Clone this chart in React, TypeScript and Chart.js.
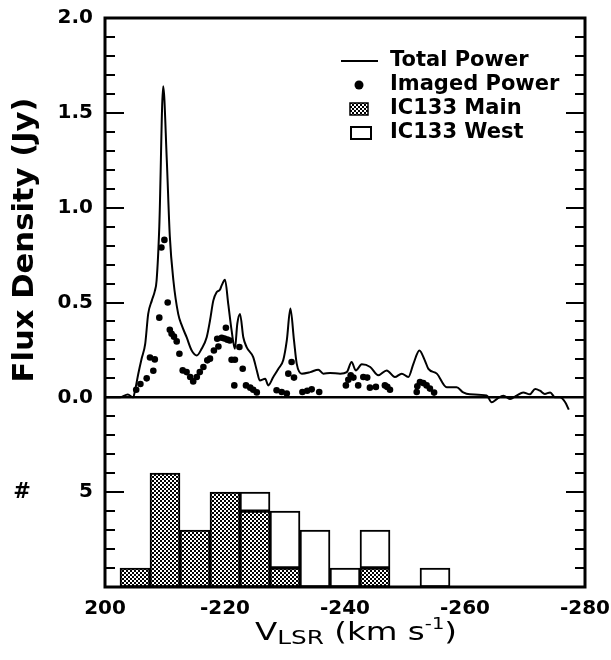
import React, { useEffect, useRef } from "react";
import { Chart, registerables } from "chart.js";

Chart.register(...registerables);

// Total power spectrum: [velocity (km/s), flux density (Jy)]
const TOTAL_POWER: [number, number][] = [
  [-200, 0], [-202.5, 0], [-203.8, 0.015], [-204.7, 0], [-205.0, 0.035],
  [-205.55, 0.124], [-206.1, 0.203], [-206.7, 0.282], [-207.2, 0.44], [-207.8, 0.51],
  [-208.3, 0.56], [-208.6, 0.616], [-209.05, 0.9], [-209.7, 1.64], [-210.3, 1.25],
  [-210.8, 0.85], [-211.4, 0.616], [-212.2, 0.44], [-212.8, 0.379], [-213.6, 0.317],
  [-214.45, 0.247], [-215.3, 0.221], [-216.1, 0.256], [-216.95, 0.317], [-217.5, 0.405],
  [-218.05, 0.51], [-218.6, 0.554], [-219.15, 0.567], [-219.45, 0.59], [-220.0, 0.62],
  [-220.55, 0.49], [-221.1, 0.353], [-221.65, 0.256], [-222.05, 0.388], [-222.5, 0.44],
  [-223.05, 0.317], [-223.6, 0.265], [-224.7, 0.212], [-225.3, 0.142], [-225.8, 0.089],
  [-226.7, 0.098], [-227.2, 0.063], [-228.05, 0.107], [-228.9, 0.151], [-229.7, 0.195],
  [-230.3, 0.3], [-230.9, 0.468], [-231.5, 0.3], [-231.95, 0.178], [-232.8, 0.125],
  [-234.2, 0.133], [-235.55, 0.146], [-236.4, 0.125], [-237.5, 0.128], [-239.2, 0.125],
  [-240.3, 0.133], [-241.1, 0.186], [-241.8, 0.142], [-242.8, 0.174], [-244.2, 0.16],
  [-245.55, 0.116], [-246.95, 0.142], [-248.3, 0.107], [-249.45, 0.125], [-250.55, 0.107],
  [-251.4, 0.177], [-252.4, 0.247], [-253.3, 0.195], [-253.9, 0.15], [-255.3, 0.125],
  [-256.95, 0.053], [-258.6, 0.053], [-259.7, 0.026], [-260.8, 0.016], [-263.6, 0.01],
  [-264.45, -0.026], [-265.3, -0.009], [-266.4, 0.009], [-267.5, -0.009], [-268.6, 0.009],
  [-269.7, 0.026], [-270.8, 0.016], [-271.7, 0.044], [-272.5, 0.035], [-273.3, 0.018],
  [-274.2, 0.026], [-275.0, 0], [-275.8, 0], [-276.7, -0.026], [-277.3, -0.065],
];

// Imaged power points: [velocity (km/s), flux density (Jy)]
const IMAGED_POWER: [number, number][] = [
  [-205.2, 0.04], [-205.9, 0.07], [-206.95, 0.1], [-207.5, 0.21], [-208.05, 0.14],
  [-208.3, 0.2], [-209.05, 0.42], [-209.4, 0.79], [-209.9, 0.83], [-210.45, 0.5],
  [-210.8, 0.356], [-211.1, 0.335], [-211.5, 0.32], [-211.95, 0.295], [-212.4, 0.23],
  [-212.95, 0.142], [-213.6, 0.133], [-214.2, 0.107], [-214.7, 0.084], [-215.3, 0.107],
  [-215.8, 0.133], [-216.4, 0.16], [-217.05, 0.195], [-217.5, 0.204], [-218.15, 0.247],
  [-218.7, 0.309], [-218.9, 0.268], [-219.45, 0.314], [-219.9, 0.31], [-220.15, 0.367],
  [-220.4, 0.304], [-220.8, 0.3], [-221.1, 0.198], [-221.55, 0.063], [-221.65, 0.198],
  [-222.4, 0.265], [-222.95, 0.151], [-223.5, 0.063], [-224.2, 0.051], [-224.7, 0.04],
  [-225.3, 0.026], [-228.6, 0.037], [-229.45, 0.028], [-230.3, 0.02], [-230.55, 0.125],
  [-231.1, 0.186], [-231.5, 0.104], [-232.9, 0.028], [-233.7, 0.035], [-234.45, 0.042],
  [-235.7, 0.028], [-240.15, 0.063], [-240.55, 0.093], [-240.95, 0.116], [-241.4, 0.104],
  [-242.2, 0.063], [-243.05, 0.107], [-243.7, 0.104], [-244.15, 0.051], [-245.15, 0.055],
  [-246.65, 0.063], [-247.05, 0.055], [-247.5, 0.04], [-251.95, 0.028], [-252.05, 0.058],
  [-252.5, 0.08], [-253.05, 0.075], [-253.6, 0.063], [-254.15, 0.046], [-254.85, 0.025],
];

// Histogram of maser spot counts per 5 km/s bin
const BIN_VELOCITY = [-205, -210, -215, -220, -225, -230, -235, -240, -245, -250, -255];
const MAIN_COUNTS = [1, 6, 3, 5, 4, 1, 0, 0, 1, 0, 0];
const WEST_COUNTS = [0, 0, 0, 0, 1, 3, 3, 1, 2, 0, 1];

// Tick labels
const VEL_TICKS = [-200, -220, -240, -260, -280];
const VEL_TICK_LABELS = ["200", "-220", "-240", "-260", "-280"];
const FLUX_TICKS = [0, 0.5, 1, 1.5, 2];
const FLUX_TICK_LABELS = ["0.0", "0.5", "1.0", "1.5", "2.0"];
const COUNT_TICKS = [5];
const COUNT_TICK_LABELS = ["5"];

const FLUX_MIN = -1;
const FLUX_MAX = 2;
const COUNT_MAX = 30;

const FONT = '"DejaVu Sans", "Liberation Sans", sans-serif';

function makePattern(ctx: CanvasRenderingContext2D): CanvasPattern | string {
  const c = document.createElement("canvas");
  c.width = 4;
  c.height = 4;
  const g = c.getContext("2d");
  if (!g) return "#888";
  g.fillStyle = "#fff";
  g.fillRect(0, 0, 4, 4);
  g.fillStyle = "#000";
  g.fillRect(0, 0, 2, 2);
  g.fillRect(2, 2, 2, 2);
  return ctx.createPattern(c, "repeat") || "#888";
}

function fluxLabel(v: number): string {
  for (let i = 0; i < FLUX_TICKS.length; i++) {
    if (Math.abs(v - FLUX_TICKS[i]) < 1e-6) return FLUX_TICK_LABELS[i];
  }
  if (v < 0) {
    const count = ((v - FLUX_MIN) / (FLUX_MAX - FLUX_MIN)) * COUNT_MAX;
    for (let i = 0; i < COUNT_TICKS.length; i++) {
      if (Math.abs(count - COUNT_TICKS[i]) < 1e-6) return COUNT_TICK_LABELS[i];
    }
  }
  return "";
}

export default function App() {
  const ref = useRef<HTMLCanvasElement | null>(null);

  useEffect(() => {
    document.body.style.margin = "0";
    const canvas = ref.current;
    if (!canvas) return;
    const ctx = canvas.getContext("2d");
    if (!ctx) return;
    const pattern = makePattern(ctx);

    const framePlugin = {
      id: "frame",
      beforeDatasetsDraw(chart: any) {
        const { ctx: c, chartArea: ca, scales } = chart;
        const y0 = scales.y.getPixelForValue(0);
        c.save();
        c.strokeStyle = "#000";
        c.lineWidth = 2.5;
        c.beginPath();
        c.moveTo(ca.left, y0);
        c.lineTo(ca.right, y0);
        c.stroke();
        c.restore();
      },
      afterDraw(chart: any) {
        const { ctx: c, chartArea: ca, scales } = chart;
        const y = scales.y;
        c.save();
        c.strokeStyle = "#000";
        c.fillStyle = "#000";
        // ticks on both sides, pointing inward
        c.lineWidth = 2;
        for (const t of y.ticks) {
          const v = t.value;
          if (Math.abs(v - FLUX_MIN) < 1e-6 || Math.abs(v - FLUX_MAX) < 1e-6 || Math.abs(v) < 1e-6) continue;
          const major = fluxLabel(v) !== "";
          const len = major ? 19 : 10;
          const py = Math.round(y.getPixelForValue(v));
          c.beginPath();
          c.moveTo(ca.left, py);
          c.lineTo(ca.left + len, py);
          c.moveTo(ca.right, py);
          c.lineTo(ca.right - len, py);
          c.stroke();
        }
        // frame
        c.lineWidth = 3;
        c.strokeRect(ca.left, ca.top, ca.right - ca.left, ca.bottom - ca.top);

        // legend
        c.textAlign = "left";
        c.textBaseline = "middle";
        c.font = `bold 21px ${FONT}`;
        const lx = 390;
        const rows = [61, 85, 109, 133];
        c.lineWidth = 2;
        c.beginPath();
        c.moveTo(341, rows[0]);
        c.lineTo(378, rows[0]);
        c.stroke();
        c.fillText("Total Power", lx, rows[0]);
        c.beginPath();
        c.arc(359, rows[1], 4.5, 0, Math.PI * 2);
        c.fill();
        c.fillText("Imaged Power", lx, rows[1]);
        c.fillStyle = pattern as any;
        c.fillRect(350, rows[2] - 6, 18, 12);
        c.lineWidth = 1.5;
        c.strokeRect(350, rows[2] - 6, 18, 12);
        c.fillStyle = "#000";
        c.fillText("IC133 Main", lx, rows[2]);
        c.fillStyle = "#fff";
        c.fillRect(351, rows[3] - 6, 20, 12);
        c.lineWidth = 2;
        c.strokeRect(351, rows[3] - 6, 20, 12);
        c.fillStyle = "#000";
        c.fillText("IC133 West", lx, rows[3]);

        // y title
        c.save();
        c.translate(33, 240);
        c.rotate(-Math.PI / 2);
        c.font = `bold 29px ${FONT}`;
        c.textAlign = "center";
        c.textBaseline = "alphabetic";
        const yt = "Flux Density (Jy)";
        const ytw = c.measureText(yt).width;
        c.scale(285 / ytw, 1);
        c.fillText(yt, 0, 0);
        c.restore();

        // "#" label for histogram
        c.font = `bold 21px ${FONT}`;
        c.textAlign = "center";
        c.textBaseline = "middle";
        c.fillText("#", 22, scales.yc.getPixelForValue(5));

        // x title with subscript / superscript
        const segs = [
          { t: "V", size: 25, dy: 0 },
          { t: "LSR", size: 19, dy: 4 },
          { t: " (km s", size: 25, dy: 0 },
          { t: "-1", size: 15, dy: -11 },
          { t: ")", size: 25, dy: 0 },
        ];
        c.textAlign = "left";
        c.textBaseline = "alphabetic";
        let w = 0;
        for (const s of segs) {
          c.font = `${s.size}px ${FONT}`;
          w += c.measureText(s.t).width;
        }
        c.save();
        c.translate(255, 640);
        c.scale(202 / w, 1);
        let cx = 0;
        for (const s of segs) {
          c.font = `${s.size}px ${FONT}`;
          c.fillText(s.t, cx, s.dy);
          cx += c.measureText(s.t).width;
        }
        c.restore();
        c.restore();
      },
    };

    const mainData = BIN_VELOCITY.map((v, i) => ({
      x: v,
      y: MAIN_COUNTS[i] > 0 ? [0, MAIN_COUNTS[i]] : null,
    }));
    const westData = BIN_VELOCITY.map((v, i) => ({
      x: v,
      y: WEST_COUNTS[i] > 0 ? [MAIN_COUNTS[i], MAIN_COUNTS[i] + WEST_COUNTS[i]] : null,
    }));

    const chart = new Chart(ctx, {
      type: "bar",
      data: {
        datasets: [
          {
            type: "line",
            label: "Total Power",
            data: TOTAL_POWER.map(([x, y]) => ({ x, y })),
            yAxisID: "y",
            borderColor: "#000",
            borderWidth: 2,
            pointRadius: 0,
            cubicInterpolationMode: "monotone",
            fill: false,
            order: 0,
          } as any,
          {
            type: "line",
            label: "Imaged Power",
            data: IMAGED_POWER.map(([x, y]) => ({ x, y })),
            yAxisID: "y",
            showLine: false,
            pointRadius: 3.3,
            pointBackgroundColor: "#000",
            pointBorderWidth: 0,
            order: 1,
          } as any,
          {
            type: "bar",
            label: "IC133 Main",
            data: mainData as any,
            yAxisID: "yc",
            backgroundColor: pattern as any,
            borderColor: "#000",
            borderWidth: 2,
            borderSkipped: false,
            barPercentage: 1,
            categoryPercentage: 1,
            grouped: false,
            order: 2,
          } as any,
          {
            type: "bar",
            label: "IC133 West",
            data: westData as any,
            yAxisID: "yc",
            backgroundColor: "#fff",
            borderColor: "#000",
            borderWidth: 2,
            borderSkipped: false,
            barPercentage: 1,
            categoryPercentage: 1,
            grouped: false,
            order: 3,
          } as any,
        ],
      },
      options: {
        responsive: false,
        animation: false,
        layout: { padding: { top: 18, right: 26, left: 0, bottom: 0 } },
        plugins: { legend: { display: false }, tooltip: { enabled: false } },
        scales: {
          x: {
            type: "linear",
            min: -280,
            max: -200,
            reverse: true,
            offset: false,
            grid: { display: false, drawTicks: false },
            border: { display: false },
            afterBuildTicks: (scale: any) => {
              scale.ticks = VEL_TICKS.map((v) => ({ value: v }));
            },
            ticks: {
              autoSkip: false,
              maxRotation: 0,
              padding: 10,
              color: "#000",
              font: { family: FONT, size: 20, weight: "bold" },
              callback: (v: any) => {
                const i = VEL_TICKS.indexOf(Number(v));
                return i >= 0 ? VEL_TICK_LABELS[i] : "";
              },
            },
            afterFit: (scale: any) => {
              scale.height = 73;
              scale.paddingLeft = 0;
              scale.paddingRight = 0;
            },
          } as any,
          y: {
            type: "linear",
            position: "left",
            min: FLUX_MIN,
            max: FLUX_MAX,
            grid: { display: false, drawTicks: false },
            border: { display: false },
            ticks: {
              stepSize: 0.1,
              autoSkip: false,
              padding: 12,
              color: "#000",
              font: { family: FONT, size: 20, weight: "bold" },
              callback: (v: any) => fluxLabel(Number(v)),
            },
            afterFit: (scale: any) => {
              scale.width = 105;
              scale.paddingTop = 0;
              scale.paddingBottom = 0;
            },
          } as any,
          yc: {
            type: "linear",
            position: "right",
            min: 0,
            max: COUNT_MAX,
            display: false,
          } as any,
        },
      },
      plugins: [framePlugin as any],
    });

    return () => {
      chart.destroy();
    };
  }, []);

  return (
    <canvas
      ref={ref}
      width={611}
      height={660}
      style={{ display: "block", width: 611, height: 660 }}
    />
  );
}
